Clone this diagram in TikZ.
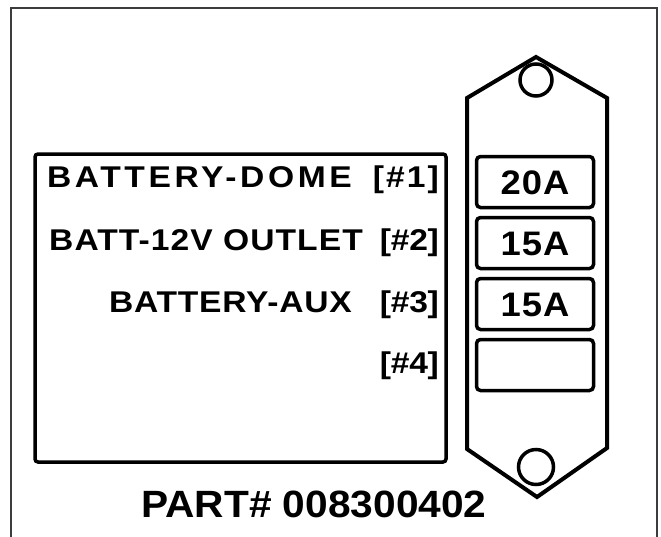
\documentclass[tikz,border=0pt]{standalone}
\usepackage{fontspec}
\setmainfont{Liberation Sans}
\newfontfamily\lblfont{Liberation Sans}[FakeStretch=1.12]
\newfontfamily\partfont{Liberation Sans}[FakeStretch=1.07]
\usepackage{xcolor}
\usetikzlibrary{positioning}
\definecolor{frameg}{RGB}{60,60,60}

\begin{document}
\begin{tikzpicture}[
  x=1pt, y=-1pt,
  lbl/.style={font=\lblfont\bfseries\fontsize{30}{34}\selectfont\addfontfeature{LetterSpace=#1},
    anchor=base east, inner sep=0pt},
  lbl/.default=0,
  fuse/.style={draw, line width=3.5pt, rounded corners=4pt, minimum width=117pt, minimum height=51pt,
    font=\partfont\bfseries\fontsize{34}{38}\selectfont\addfontfeature{LetterSpace=3},
    text height=24pt, text depth=0pt, inner sep=0pt},
  hole/.style={draw, circle, line width=3.5pt, inner sep=0pt}
]
\useasboundingbox (0,0) rectangle (661,536);
\fill[white] (0,0) rectangle (661,536);
\draw[frameg, line width=2pt] (11,540) -- (11,8) -- (657,8) -- (657,540);

% label panel
\node[draw, line width=3.5pt, rounded corners=3pt, minimum width=411pt, minimum height=308pt, inner sep=0pt] (panel) at (240.5,308) {};
\node[lbl=12] (dome) at (352,187) {BATTERY-DOME};
\node[lbl=7] (domeno) at (439,187) {[\#1]};
\node[lbl=3.5] (outlet) at (363,250) {BATT-12V OUTLET};
\node[lbl=-1] (outletno) at (439,250) {[\#2]};
\node[lbl=2.5] (aux) at (352,312) {BATTERY-AUX};
\node[lbl=-1] (auxno) at (439,312) {[\#3]};
\node[lbl=-1] (spareno) at (439,373) {[\#4]};

% fuse holder
\draw[line width=4pt, line join=miter] (467,98) -- (536,57) -- (607,98) -- (607,448) -- (537,497) -- (467,449) -- cycle;
\node[hole, minimum size=32pt] (tophole) at (536,80) {};
\node[hole, minimum size=35pt] (bothole) at (536,467) {};
\foreach \amp [count=\i] in {20A,15A,15A,{}}
  \node[fuse] (fuse\i) at (535,{182+61*(\i-1)}) {\amp};

\node[font=\partfont\bfseries\fontsize{38}{42}\selectfont, anchor=base, inner sep=0pt] (part) at (314,517) {PART\# 008300402};
\end{tikzpicture}
\end{document}
